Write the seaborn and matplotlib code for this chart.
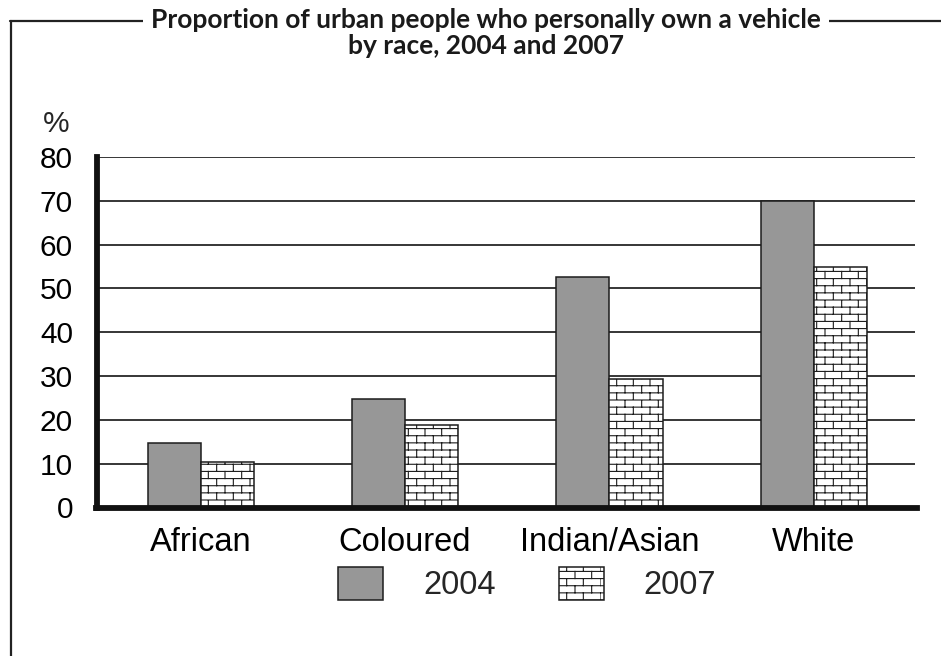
import warnings
import numpy as np
import pandas as pd
import matplotlib
matplotlib.use("Agg")
import matplotlib.pyplot as plt
import matplotlib.hatch as mhatch
from matplotlib.patches import Patch
from matplotlib.lines import Line2D
import seaborn as sns

warnings.filterwarnings("ignore", category=matplotlib.MatplotlibDeprecationWarning)

# ---- data -------------------------------------------------------------
races = ["African", "Coloured", "Indian/Asian", "White"]
years = ["2004", "2007"]
own_2004 = [14.7, 24.8, 52.5, 70.0]
own_2007 = [10.4, 18.9, 29.3, 55.0]
y_ticks = [0, 10, 20, 30, 40, 50, 60, 70, 80]

df = pd.DataFrame({
    "race": races * 2,
    "year": [years[0]] * len(races) + [years[1]] * len(races),
    "pct": own_2004 + own_2007,
})


# ---- brick-wall hatch ('b') --------------------------------------------
class BrickHatch(mhatch.HatchPatternBase):
    rows = 14
    cols = 6

    def __init__(self, hatch, density):
        self.on = "b" in hatch
        self.num_vertices = (2 * (self.rows + 1) + 2 * self.rows * self.cols) if self.on else 0

    def set_vertices_and_codes(self, vertices, codes):
        k = 0
        for i in range(self.rows + 1):
            y = i / self.rows
            vertices[k] = (0.0, y); vertices[k + 1] = (1.0, y)
            codes[k] = mhatch.Path.MOVETO; codes[k + 1] = mhatch.Path.LINETO
            k += 2
        for i in range(self.rows):
            off = 0.5 / self.cols if i % 2 else 0.0
            y0, y1 = i / self.rows, (i + 1) / self.rows
            for j in range(self.cols):
                x = j / self.cols + off
                vertices[k] = (x, y0); vertices[k + 1] = (x, y1)
                codes[k] = mhatch.Path.MOVETO; codes[k + 1] = mhatch.Path.LINETO
                k += 2


mhatch._hatch_types.append(BrickHatch)

# ---- style ------------------------------------------------------------
sns.set_theme(style="white")
plt.rcParams["font.family"] = ["Liberation Sans", "DejaVu Sans"]
plt.rcParams["hatch.linewidth"] = 0.8

W, H = 941, 656
fig = plt.figure(figsize=(W / 100, H / 100), dpi=100)
ax = fig.add_axes([96.5 / W, 1 - 507.5 / H, 818.5 / W, 350.5 / H])

GRAY = "#979797"
EDGE = "#1c1c1c"

sns.barplot(data=df, x="race", y="pct", hue="year", order=races, hue_order=years,
            palette=[GRAY, "white"], width=0.52, edgecolor=EDGE, linewidth=1.1,
            saturation=1, legend=False, ax=ax, zorder=3)

for bar in ax.containers[1]:
    bar.set_hatch("b")

ax.set_xlim(-0.51, 3.495)
ax.set_ylim(0, 80)
ax.set_yticks(y_ticks)
ax.set_xlabel("")
ax.set_ylabel("")
ax.yaxis.grid(True, color="black", linewidth=1.1, zorder=0)
ax.xaxis.grid(False)
ax.set_axisbelow(True)

for side in ["top", "right"]:
    ax.spines[side].set_visible(False)
for side in ["left", "bottom"]:
    ax.spines[side].set_visible(True)
    ax.spines[side].set_color("#111111")
    ax.spines[side].set_linewidth(4.2)
    ax.spines[side].set_zorder(4)
ax.spines["bottom"].set_bounds(-0.51, 3.505)

ax.tick_params(axis="y", length=0, pad=17, labelsize=21.5, labelcolor="black")
ax.tick_params(axis="x", length=0, pad=14, labelsize=23.5, labelcolor="black")

# unit label above the value axis
fig.text(56 / W, 1 - 124 / H, "%", fontsize=21.5, ha="center", va="center")

# legend
handles = [Patch(facecolor=GRAY, edgecolor=EDGE, linewidth=1.1),
           Patch(facecolor="white", edgecolor=EDGE, linewidth=1.1, hatch="b")]
ax.legend(handles, years, loc="center", bbox_to_anchor=(527 / W, 1 - 584 / H),
          bbox_transform=fig.transFigure, ncol=2, frameon=False, fontsize=23.5,
          handlelength=1.38, handleheight=1.17, handletextpad=1.23,
          columnspacing=1.93, borderpad=0)

# outer frame: left rule and top rule broken by the heading
fig.add_artist(Line2D([11 / W, 11 / W], [0, 1 - 20.5 / H], transform=fig.transFigure,
                      color="#222222", linewidth=1.6))
fig.add_artist(Line2D([10 / W, 1.0], [1 - 20.5 / H, 1 - 20.5 / H], transform=fig.transFigure,
                      color="#222222", linewidth=1.6))

title = ("Proportion of urban people who personally own a vehicle\n"
         "by race, 2004 and 2007")
fig.text(486 / W, 1 - 8.5 / H, title, ha="center", va="top", fontsize=19,
         fontweight="bold", family=["Lato", "DejaVu Sans"], linespacing=1.05,
         color="#1a1a1a",
         bbox=dict(facecolor="white", edgecolor="none", boxstyle="square,pad=0.3"))

fig.savefig("out.png", dpi=100)
